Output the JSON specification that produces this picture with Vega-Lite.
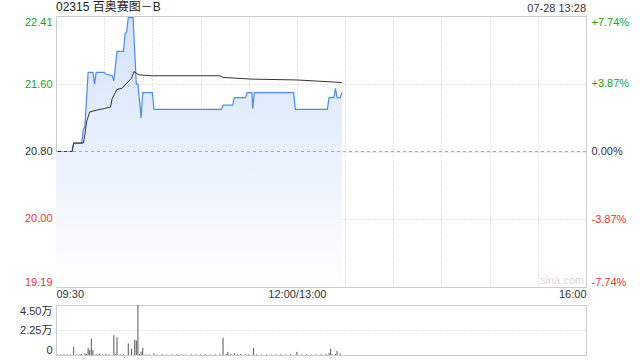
{
  "$schema": "https://vega.github.io/schema/vega-lite/v6.json",
  "padding": {"top": 0, "left": 5, "right": 5, "bottom": 5},
  "background": "white",
  "config": {
    "font": "Liberation Sans, Noto Sans CJK SC",
    "view": {"stroke": "#cccccc"},
    "axis": {"labelFont": "Liberation Sans, Noto Sans CJK SC", "labelFontSize": 11, "labelColor": "#333333", "domain": false, "ticks": false, "gridColor": "#cccccc", "gridDash": [1, 2], "labelOverlap": false}
  },
  "datasets": {
    "price": [
      {"m": 0, "p": 20.80}, {"m": 10, "p": 20.80}, {"m": 11, "p": 20.90}, {"m": 16, "p": 20.90}, {"m": 17, "p": 21.06},
      {"m": 18, "p": 21.10}, {"m": 20, "p": 21.74}, {"m": 23, "p": 21.74}, {"m": 24, "p": 21.60}, {"m": 25, "p": 21.74},
      {"m": 30, "p": 21.74}, {"m": 31, "p": 21.72}, {"m": 35, "p": 21.70}, {"m": 36, "p": 21.64}, {"m": 38, "p": 21.99},
      {"m": 42, "p": 21.99}, {"m": 43, "p": 22.20}, {"m": 44, "p": 22.22}, {"m": 45, "p": 22.39}, {"m": 48, "p": 22.39},
      {"m": 50, "p": 21.60}, {"m": 51, "p": 21.60}, {"m": 53, "p": 21.20}, {"m": 54, "p": 21.50}, {"m": 60, "p": 21.50},
      {"m": 61, "p": 21.30}, {"m": 103, "p": 21.30}, {"m": 104, "p": 21.35}, {"m": 110, "p": 21.35}, {"m": 111, "p": 21.44},
      {"m": 118, "p": 21.44}, {"m": 119, "p": 21.50}, {"m": 122, "p": 21.50}, {"m": 122.5, "p": 21.31}, {"m": 123.5, "p": 21.50},
      {"m": 148, "p": 21.50}, {"m": 149, "p": 21.30}, {"m": 169, "p": 21.30}, {"m": 170, "p": 21.44}, {"m": 173, "p": 21.44},
      {"m": 174, "p": 21.55}, {"m": 175, "p": 21.44}, {"m": 177, "p": 21.44}, {"m": 178, "p": 21.50}
    ],
    "avg": [
      {"m": 0, "p": 20.80}, {"m": 10, "p": 20.80}, {"m": 11, "p": 20.90}, {"m": 17, "p": 20.90}, {"m": 18, "p": 21.00},
      {"m": 19, "p": 21.15}, {"m": 21, "p": 21.27}, {"m": 25, "p": 21.29}, {"m": 30, "p": 21.31}, {"m": 34, "p": 21.33},
      {"m": 35, "p": 21.43}, {"m": 38, "p": 21.54}, {"m": 41, "p": 21.55}, {"m": 45, "p": 21.63}, {"m": 47, "p": 21.67},
      {"m": 48.5, "p": 21.75}, {"m": 50, "p": 21.73}, {"m": 52, "p": 21.71}, {"m": 60, "p": 21.70}, {"m": 102, "p": 21.70},
      {"m": 104, "p": 21.68}, {"m": 122, "p": 21.66}, {"m": 150, "p": 21.65}, {"m": 178, "p": 21.62}
    ],
    "vol": [
      {"m": 1, "v": 400}, {"m": 3, "v": 500}, {"m": 5, "v": 600}, {"m": 7, "v": 400}, {"m": 9, "v": 500}, {"m": 11, "v": 7300},
      {"m": 13, "v": 600}, {"m": 15, "v": 500}, {"m": 16, "v": 800}, {"m": 18, "v": 1500}, {"m": 19, "v": 900}, {"m": 20, "v": 6400},
      {"m": 21, "v": 4600}, {"m": 22, "v": 14700}, {"m": 23, "v": 4300}, {"m": 25, "v": 700}, {"m": 27, "v": 1200}, {"m": 29, "v": 600},
      {"m": 31, "v": 800}, {"m": 33, "v": 500}, {"m": 36, "v": 17700}, {"m": 37, "v": 600}, {"m": 38, "v": 15900}, {"m": 40, "v": 500},
      {"m": 42, "v": 700}, {"m": 45, "v": 10400}, {"m": 47, "v": 5500}, {"m": 49, "v": 13800}, {"m": 50, "v": 13100}, {"m": 51, "v": 45000},
      {"m": 52, "v": 800}, {"m": 53, "v": 3000}, {"m": 54, "v": 6400}, {"m": 56, "v": 500}, {"m": 58, "v": 600}, {"m": 61, "v": 1500},
      {"m": 63, "v": 500}, {"m": 66, "v": 600}, {"m": 69, "v": 400}, {"m": 72, "v": 500}, {"m": 75, "v": 600}, {"m": 78, "v": 500},
      {"m": 81, "v": 400}, {"m": 84, "v": 600}, {"m": 87, "v": 500}, {"m": 90, "v": 500}, {"m": 93, "v": 600}, {"m": 96, "v": 500},
      {"m": 99, "v": 500}, {"m": 102, "v": 700}, {"m": 104, "v": 15600}, {"m": 106, "v": 900}, {"m": 107, "v": 2800}, {"m": 109, "v": 700},
      {"m": 111, "v": 1800}, {"m": 113, "v": 600}, {"m": 115, "v": 900}, {"m": 118, "v": 500}, {"m": 120, "v": 600}, {"m": 123, "v": 6400},
      {"m": 125, "v": 600}, {"m": 128, "v": 500}, {"m": 131, "v": 600}, {"m": 134, "v": 500}, {"m": 137, "v": 500}, {"m": 140, "v": 600},
      {"m": 143, "v": 500}, {"m": 146, "v": 600}, {"m": 150, "v": 2800}, {"m": 153, "v": 500}, {"m": 156, "v": 600}, {"m": 159, "v": 500},
      {"m": 162, "v": 500}, {"m": 165, "v": 600}, {"m": 168, "v": 700}, {"m": 170, "v": 1800}, {"m": 171, "v": 5500}, {"m": 172, "v": 700},
      {"m": 174, "v": 900}, {"m": 175, "v": 3700}, {"m": 177, "v": 1200}
    ],
    "labels": [
      {"x": 0, "y": 22.41, "t": "02315 百奥赛图－B", "kind": "title"},
      {"x": 330, "y": 22.41, "t": "07-28 13:28", "kind": "date"},
      {"x": 330, "y": 19.19, "t": "sina.com", "kind": "mark"}
    ]
  },
  "spacing": 4,
  "vconcat": [
    {
      "width": 530,
      "height": 271,
      "layer": [
        {
          "encoding": {
            "x": {"field": "m", "type": "quantitative", "scale": {"domain": [0, 330], "nice": false, "zero": false},
              "axis": {"title": null, "values": [0, 30, 60, 90, 120, 150, 180, 210, 240, 270, 300, 330], "grid": true, "labelFlush": true, "labelPadding": 1,
                "labelExpr": "datum.value == 0 ? '09:30' : datum.value == 150 ? '12:00/13:00' : datum.value == 330 ? '16:00' : ''"}},
            "y": {"field": "p", "type": "quantitative", "scale": {"domain": [19.19, 22.41], "nice": false, "zero": false},
              "axis": {"title": null, "values": [19.19, 20, 20.8, 21.6, 22.41], "format": ".2f", "grid": true, "labelFlush": true, "labelPadding": 4, "minExtent": 50, "maxExtent": 50,
                "labelColor": {"condition": [{"test": "datum.value > 20.81", "value": "#1f9f1f"}, {"test": "datum.value < 20.79", "value": "#f03333"}], "value": "#333333"}}}
          },
          "layer": [
            {"data": {"name": "price"}, "mark": {"type": "area", "color": {"gradient": "linear", "x1": 0, "y1": 0, "x2": 0, "y2": 1, "stops": [{"offset": 0, "color": "#d3e2fa"}, {"offset": 1, "color": "#ffffff"}]}}, "encoding": {"y2": {"datum": 19.19}}},
            {"data": {"name": "price"}, "mark": {"type": "line", "color": "#5189e8", "strokeWidth": 1.2}},
            {"data": {"name": "avg"}, "mark": {"type": "line", "color": "#333333", "strokeWidth": 1}},
            {"data": {"name": "labels"}, "transform": [{"filter": "datum.kind == 'title'"}], "mark": {"type": "text", "align": "left", "baseline": "bottom", "dy": -2, "fontSize": 12, "color": "#222222"},
              "encoding": {"x": {"field": "x", "type": "quantitative"}, "y": {"field": "y", "type": "quantitative"}, "text": {"field": "t", "type": "nominal"}}},
            {"data": {"name": "labels"}, "transform": [{"filter": "datum.kind == 'date'"}], "mark": {"type": "text", "align": "right", "baseline": "bottom", "dy": -2, "fontSize": 11, "color": "#333333"},
              "encoding": {"x": {"field": "x", "type": "quantitative"}, "y": {"field": "y", "type": "quantitative"}, "text": {"field": "t", "type": "nominal"}}},
            {"data": {"name": "labels"}, "transform": [{"filter": "datum.kind == 'mark'"}], "mark": {"type": "text", "align": "right", "baseline": "bottom", "dx": -2, "dy": -1, "fontSize": 11, "color": "#d8d8d8"},
              "encoding": {"x": {"field": "x", "type": "quantitative"}, "y": {"field": "y", "type": "quantitative"}, "text": {"field": "t", "type": "nominal"}}}
          ]
        },
        {
          "data": {"values": [{"z": 0}]},
          "mark": {"type": "rule", "color": "#aaaaaa", "strokeDash": [3, 3]},
          "encoding": {
            "y": {"datum": 0, "type": "quantitative", "scale": {"domain": [-7.74, 7.74], "nice": false, "zero": false},
              "axis": {"orient": "right", "title": null, "grid": false, "values": [-7.74, -3.87, 0, 3.87, 7.74], "labelFlush": true, "labelPadding": 5, "minExtent": 50, "maxExtent": 50,
                "labelExpr": "datum.value > 7 ? '+7.74%' : datum.value > 3 ? '+3.87%' : datum.value > -1 ? '0.00%' : datum.value > -5 ? '-3.87%' : '-7.74%'",
                "labelColor": {"condition": [{"test": "datum.value > 0.01", "value": "#1f9f1f"}, {"test": "datum.value < -0.01", "value": "#f03333"}], "value": "#333333"}}}
          }
        }
      ],
      "resolve": {"scale": {"y": "independent"}}
    },
    {
      "width": 530,
      "height": 50,
      "data": {"name": "vol"},
      "mark": {"type": "rule", "color": "#555555", "strokeWidth": 1},
      "encoding": {
        "x": {"field": "m", "type": "quantitative", "scale": {"domain": [0, 330], "nice": false, "zero": false}, "axis": null},
        "y": {"field": "v", "type": "quantitative", "scale": {"domain": [0, 45000], "nice": false},
          "axis": {"title": null, "values": [0, 22500, 45000], "grid": true, "labelFlush": true, "labelPadding": 4, "minExtent": 50, "maxExtent": 50,
            "labelExpr": "datum.value == 0 ? '0' : format(datum.value / 10000, '.2f') + '万'"}},
        "y2": {"datum": 0}
      }
    }
  ]
}
